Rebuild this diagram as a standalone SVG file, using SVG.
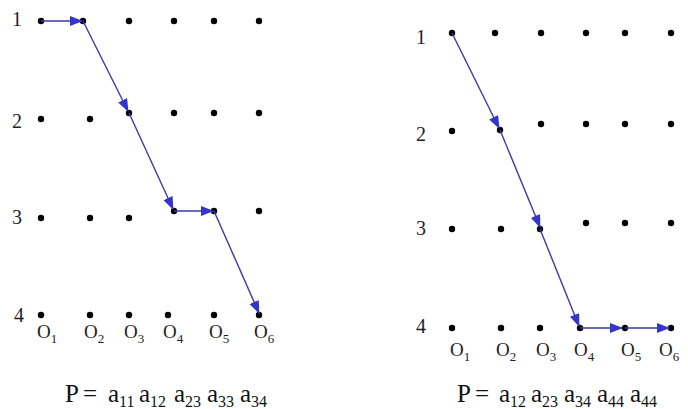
<svg xmlns="http://www.w3.org/2000/svg" width="688" height="409" viewBox="0 0 688 409">
<style>
.dot{fill:#000}
text{font-family:'Liberation Serif','Times New Roman',Tinos,Times,serif}
.lbl{font-size:20px;fill:#222}
.o{font-size:19px;fill:#222}
.f{font-size:25px;fill:#111}
.s{font-size:16px}
.c{stroke:#3a3aa8;stroke-width:1.4;fill:none;marker-end:url(#ah)}
</style>
<defs>
<marker id="ah" markerUnits="userSpaceOnUse" markerWidth="13" markerHeight="10" refX="12" refY="5" orient="auto"><path d="M0,0 L13,5 L0,10 z" fill="#3535c8"/></marker>
</defs>
<rect width="688" height="409" fill="#fff"/>
<g id="left-grid">
<g id="L-r1"><circle class="dot" cx="41" cy="21" r="3.2"/><circle class="dot" cx="83" cy="21" r="3.2"/><circle class="dot" cx="129" cy="21" r="3.2"/><circle class="dot" cx="174" cy="21" r="3.2"/><circle class="dot" cx="214" cy="21" r="3.2"/><circle class="dot" cx="259" cy="21" r="3.2"/></g>
<g id="L-r2"><circle class="dot" cx="41" cy="119" r="3.2"/><circle class="dot" cx="90" cy="119" r="3.2"/><circle class="dot" cx="129" cy="113" r="3.2"/><circle class="dot" cx="174" cy="113" r="3.2"/><circle class="dot" cx="214" cy="113" r="3.2"/><circle class="dot" cx="259" cy="113" r="3.2"/></g>
<g id="L-r3"><circle class="dot" cx="41" cy="218" r="3.2"/><circle class="dot" cx="90" cy="218" r="3.2"/><circle class="dot" cx="129" cy="218" r="3.2"/><circle class="dot" cx="174" cy="211" r="3.2"/><circle class="dot" cx="214" cy="211" r="3.2"/><circle class="dot" cx="259" cy="211" r="3.2"/></g>
<g id="L-r4"><circle class="dot" cx="41" cy="315" r="3.2"/><circle class="dot" cx="90" cy="315" r="3.2"/><circle class="dot" cx="129" cy="315" r="3.2"/><circle class="dot" cx="168" cy="315" r="3.2"/><circle class="dot" cx="214" cy="315" r="3.2"/><circle class="dot" cx="259" cy="315" r="3.2"/></g>
<g id="L-labels">
<text class="lbl" x="12" y="26">1</text><text class="lbl" x="12" y="128">2</text><text class="lbl" x="12" y="224">3</text><text class="lbl" x="14" y="322">4</text>
<text class="o" x="37" y="338">O<tspan dy="5" font-size="13">1</tspan></text>
<text class="o" x="84" y="338">O<tspan dy="5" font-size="13">2</tspan></text>
<text class="o" x="124" y="338">O<tspan dy="5" font-size="13">3</tspan></text>
<text class="o" x="163" y="338">O<tspan dy="5" font-size="13">4</tspan></text>
<text class="o" x="209" y="338">O<tspan dy="5" font-size="13">5</tspan></text>
<text class="o" x="254" y="338">O<tspan dy="5" font-size="13">6</tspan></text>
</g>
</g>
<g id="right-grid">
<g id="R-r1"><circle class="dot" cx="452" cy="33" r="3.2"/><circle class="dot" cx="495" cy="33" r="3.2"/><circle class="dot" cx="541" cy="33" r="3.2"/><circle class="dot" cx="586" cy="33" r="3.2"/><circle class="dot" cx="625" cy="33" r="3.2"/><circle class="dot" cx="671" cy="33" r="3.2"/></g>
<g id="R-r2"><circle class="dot" cx="452" cy="131" r="3.2"/><circle class="dot" cx="500" cy="130" r="3.2"/><circle class="dot" cx="541" cy="124" r="3.2"/><circle class="dot" cx="586" cy="124" r="3.2"/><circle class="dot" cx="625" cy="124" r="3.2"/><circle class="dot" cx="671" cy="124" r="3.2"/></g>
<g id="R-r3"><circle class="dot" cx="452" cy="229" r="3.2"/><circle class="dot" cx="501" cy="229" r="3.2"/><circle class="dot" cx="540" cy="229" r="3.2"/><circle class="dot" cx="586" cy="223" r="3.2"/><circle class="dot" cx="625" cy="223" r="3.2"/><circle class="dot" cx="671" cy="223" r="3.2"/></g>
<g id="R-r4"><circle class="dot" cx="452" cy="328" r="3.2"/><circle class="dot" cx="501" cy="328" r="3.2"/><circle class="dot" cx="540" cy="328" r="3.2"/><circle class="dot" cx="580" cy="328" r="3.2"/><circle class="dot" cx="625" cy="328" r="3.2"/><circle class="dot" cx="671" cy="328" r="3.2"/></g>
<g id="R-labels">
<text class="lbl" x="416" y="44">1</text><text class="lbl" x="416" y="141">2</text><text class="lbl" x="416" y="235">3</text><text class="lbl" x="416" y="333">4</text>
<text class="o" x="450" y="356">O<tspan dy="5" font-size="13">1</tspan></text>
<text class="o" x="496" y="356">O<tspan dy="5" font-size="13">2</tspan></text>
<text class="o" x="536" y="356">O<tspan dy="5" font-size="13">3</tspan></text>
<text class="o" x="574" y="356">O<tspan dy="5" font-size="13">4</tspan></text>
<text class="o" x="621" y="356">O<tspan dy="5" font-size="13">5</tspan></text>
<text class="o" x="659" y="356">O<tspan dy="5" font-size="13">6</tspan></text>
</g>
</g>
<g id="connectors">
<line class="c" x1="41" y1="21" x2="82" y2="21"/>
<line class="c" x1="83" y1="21" x2="128" y2="111" stroke-width="1.1"/>
<line class="c" x1="129" y1="113" x2="173" y2="209" stroke-width="1.1"/>
<line class="c" x1="174" y1="211" x2="213" y2="211"/>
<line class="c" x1="214" y1="211" x2="259" y2="313" stroke-width="2"/>
<line class="c" x1="452" y1="33" x2="499" y2="128" stroke-width="1.1"/>
<line class="c" x1="500" y1="130" x2="540" y2="227" stroke-width="1.6"/>
<line class="c" x1="540" y1="229" x2="579" y2="326" stroke-width="2"/>
<line class="c" x1="580" y1="328" x2="622" y2="328" stroke-width="2"/>
<line class="c" x1="625" y1="328" x2="669" y2="328" stroke-width="2"/>
</g>
<g id="formulas">
<text class="f" x="65" y="402">P</text><text class="f" x="83" y="402">=</text>
<text class="f" x="108" y="402">a<tspan class="s" dy="5">11</tspan></text>
<text class="f" x="139" y="402">a<tspan class="s" dy="5">12</tspan></text>
<text class="f" x="174" y="402">a<tspan class="s" dy="5">23</tspan></text>
<text class="f" x="207" y="402">a<tspan class="s" dy="5">33</tspan></text>
<text class="f" x="240" y="402">a<tspan class="s" dy="5">34</tspan></text>
<text class="f" x="457" y="402">P</text><text class="f" x="475" y="402">=</text>
<text class="f" x="499" y="402">a<tspan class="s" dy="5">12</tspan></text>
<text class="f" x="531" y="402">a<tspan class="s" dy="5">23</tspan></text>
<text class="f" x="564" y="402">a<tspan class="s" dy="5">34</tspan></text>
<text class="f" x="597" y="402">a<tspan class="s" dy="5">44</tspan></text>
<text class="f" x="630" y="402">a<tspan class="s" dy="5">44</tspan></text>
</g>
</svg>
